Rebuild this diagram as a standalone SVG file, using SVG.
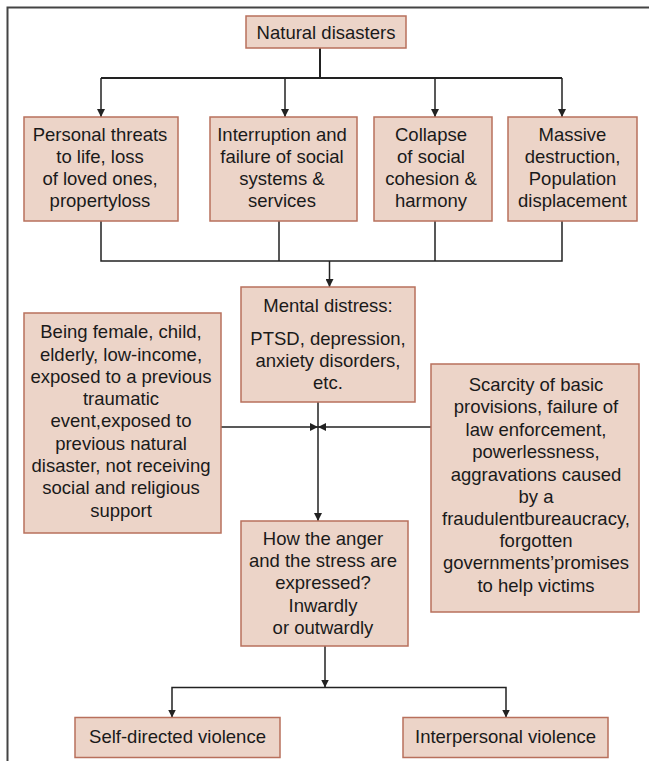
<svg xmlns="http://www.w3.org/2000/svg" width="649" height="761" viewBox="0 0 649 761">
<defs>
<style>
.box{fill:#ecd4c8;stroke:#b8705c;stroke-width:1.5}
.t{font-family:"Liberation Sans",Arial,sans-serif;font-size:18.5px;fill:#1a1a1a;text-anchor:middle}
.c{fill:none;stroke:#222;stroke-width:1.5}
.c2{fill:none;stroke:#222;stroke-width:2}
</style>
<marker id="ah" viewBox="0 0 10 10" refX="10" refY="5" markerWidth="8" markerHeight="8" markerUnits="userSpaceOnUse" orient="auto">
<path d="M0,0 L10,5 L0,10 Z" fill="#222"/>
</marker>
</defs>
<rect width="649" height="761" fill="#fff"/>
<path d="M7.5,761 V7.5 H649" fill="none" stroke="#444" stroke-width="2"/>

<g id="connectors">
<path class="c2" d="M320,48 V78 M101,78 H562"/>
<path class="c" d="M101,78 V117" marker-end="url(#ah)"/>
<path class="c" d="M285,78 V117" marker-end="url(#ah)"/>
<path class="c" d="M435,78 V117" marker-end="url(#ah)"/>
<path class="c" d="M562,78 V117" marker-end="url(#ah)"/>
<path class="c" d="M101,221 V261 H562 V221 M279,221 V261 M435,221 V261"/>
<path class="c" d="M329.5,261 V287" marker-end="url(#ah)"/>
<path class="c" d="M318,402 V521" marker-end="url(#ah)"/>
<path class="c" d="M221,427 H318" marker-end="url(#ah)"/>
<path class="c" d="M431,427 H318" marker-end="url(#ah)"/>
<path class="c" d="M325,646 V687.5" marker-end="url(#ah)"/>
<path class="c" d="M325,687.5 H172 V717.5" marker-end="url(#ah)"/>
<path class="c" d="M325,687.5 H506 V717.5" marker-end="url(#ah)"/>
</g>

<g id="n-natural">
<rect class="box" x="246" y="16" width="160" height="32"/>
<text class="t" x="326" y="38.5">Natural disasters</text>
</g>

<g id="n-personal">
<rect class="box" x="24" y="117" width="154" height="104"/>
<text class="t" x="100" y="140.5">Personal threats</text>
<text class="t" x="100" y="162.7">to life, loss</text>
<text class="t" x="100" y="184.9">of loved ones,</text>
<text class="t" x="100" y="207.1">propertyloss</text>
</g>

<g id="n-interruption">
<rect class="box" x="210" y="117" width="147" height="104"/>
<text class="t" x="282" y="140.5">Interruption and</text>
<text class="t" x="282" y="162.7">failure of social</text>
<text class="t" x="282" y="184.9">systems &amp;</text>
<text class="t" x="282" y="207.1">services</text>
</g>

<g id="n-collapse">
<rect class="box" x="374" y="117" width="118" height="104"/>
<text class="t" x="431" y="140.5">Collapse</text>
<text class="t" x="431" y="162.7">of social</text>
<text class="t" x="431" y="184.9">cohesion &amp;</text>
<text class="t" x="431" y="207.1">harmony</text>
</g>

<g id="n-massive">
<rect class="box" x="508" y="117" width="129" height="104"/>
<text class="t" x="572.5" y="140.5">Massive</text>
<text class="t" x="572.5" y="162.7">destruction,</text>
<text class="t" x="572.5" y="184.9">Population</text>
<text class="t" x="572.5" y="207.1">displacement</text>
</g>

<g id="n-mental">
<rect class="box" x="241" y="287" width="174" height="115"/>
<text class="t" x="328" y="311.5">Mental distress:</text>
<text class="t" x="328" y="344.8">PTSD, depression,</text>
<text class="t" x="328" y="366.5">anxiety disorders,</text>
<text class="t" x="328" y="389.2">etc.</text>
</g>

<g id="n-risk">
<rect class="box" x="24" y="313" width="197" height="220"/>
<text class="t" x="121" y="338.2">Being female, child,</text>
<text class="t" x="121" y="360.5">elderly, low-income,</text>
<text class="t" x="121" y="382.8">exposed to a previous</text>
<text class="t" x="121" y="405.1">traumatic</text>
<text class="t" x="121" y="427.4">event,exposed to</text>
<text class="t" x="121" y="449.7">previous natural</text>
<text class="t" x="121" y="472">disaster, not receiving</text>
<text class="t" x="121" y="494.3">social and religious</text>
<text class="t" x="121" y="516.6">support</text>
</g>

<g id="n-scarcity">
<rect class="box" x="431" y="364" width="208" height="248"/>
<text class="t" x="536" y="390.5">Scarcity of basic</text>
<text class="t" x="536" y="413">provisions, failure of</text>
<text class="t" x="536" y="435.5">law enforcement,</text>
<text class="t" x="536" y="458">powerlessness,</text>
<text class="t" x="536" y="480.5">aggravations caused</text>
<text class="t" x="536" y="503">by a</text>
<text class="t" x="536" y="525">fraudulentbureaucracy,</text>
<text class="t" x="536" y="547.2">forgotten</text>
<text class="t" x="536" y="569.4">governments’promises</text>
<text class="t" x="536" y="591.6">to help victims</text>
</g>

<g id="n-how">
<rect class="box" x="241" y="521" width="167" height="125"/>
<text class="t" x="323" y="544.8">How the anger</text>
<text class="t" x="323" y="567.1">and the stress are</text>
<text class="t" x="323" y="589.4">expressed?</text>
<text class="t" x="323" y="611.7">Inwardly</text>
<text class="t" x="323" y="634">or outwardly</text>
</g>

<g id="n-self">
<rect class="box" x="75" y="717.5" width="205" height="40"/>
<text class="t" x="177.5" y="743.2">Self-directed violence</text>
</g>

<g id="n-inter">
<rect class="box" x="403" y="717.5" width="205" height="40"/>
<text class="t" x="505.5" y="743.2">Interpersonal violence</text>
</g>
</svg>
